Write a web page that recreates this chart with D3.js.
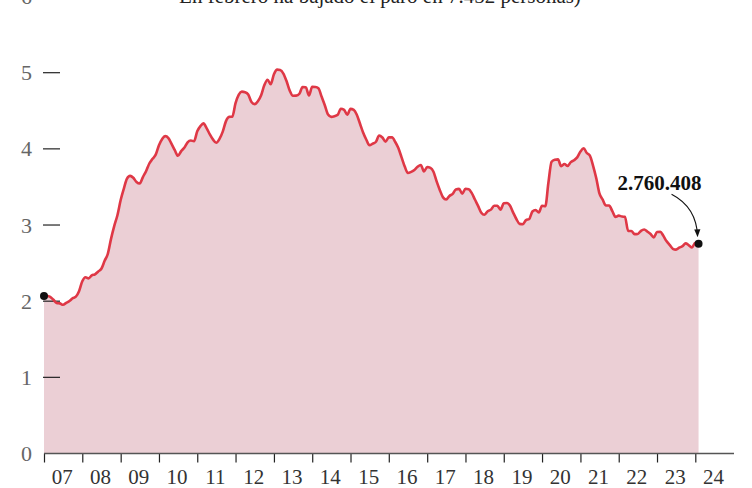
<!DOCTYPE html>
<html>
<head>
<meta charset="utf-8">
<script src="https://cdn.jsdelivr.net/npm/d3@7"></script>
<style>
    html, body { margin: 0; padding: 0; background: #fff; }
    svg { display: block; }
    .tick-label { font-family: "Liberation Serif", "DejaVu Serif", serif; }
</style>
</head>
<body>
<svg id="chart" width="752" height="488"></svg>
<script>
'use strict';

// paro registrado, millones de personas, mensual desde enero 2007
const startDate = new Date(2007, 0, 1);
const paro = [
    2.074, 2.068, 2.055, 2.018, 1.976, 1.971, 1.953, 1.977, 2.002, 2.038, 2.059, 2.130, // 2007
    2.261, 2.315, 2.300, 2.338, 2.353, 2.390, 2.426, 2.530, 2.625, 2.818, 2.989, 3.129, // 2008
    3.328, 3.482, 3.605, 3.645, 3.620, 3.565, 3.545, 3.630, 3.710, 3.808, 3.869, 3.924, // 2009
    4.048, 4.130, 4.167, 4.142, 4.066, 3.982, 3.909, 3.970, 4.018, 4.086, 4.110, 4.100, // 2010
    4.231, 4.299, 4.334, 4.270, 4.190, 4.121, 4.080, 4.131, 4.226, 4.361, 4.420, 4.422, // 2011
    4.599, 4.712, 4.751, 4.744, 4.714, 4.615, 4.587, 4.626, 4.705, 4.834, 4.908, 4.849, // 2012
    4.980, 5.040, 5.035, 4.989, 4.890, 4.763, 4.698, 4.699, 4.724, 4.811, 4.808, 4.701, // 2013
    4.814, 4.812, 4.796, 4.684, 4.573, 4.450, 4.420, 4.428, 4.447, 4.526, 4.512, 4.448, // 2014
    4.525, 4.512, 4.452, 4.333, 4.215, 4.120, 4.047, 4.068, 4.094, 4.176, 4.149, 4.094, // 2015
    4.151, 4.153, 4.094, 4.011, 3.891, 3.767, 3.683, 3.697, 3.721, 3.764, 3.789, 3.703, // 2016
    3.761, 3.750, 3.702, 3.573, 3.461, 3.363, 3.335, 3.382, 3.410, 3.467, 3.474, 3.412, // 2017
    3.476, 3.470, 3.422, 3.335, 3.252, 3.162, 3.135, 3.182, 3.202, 3.254, 3.252, 3.202, // 2018
    3.285, 3.289, 3.255, 3.163, 3.079, 3.015, 3.011, 3.065, 3.079, 3.177, 3.198, 3.164, // 2019
    3.253, 3.246, 3.548, 3.831, 3.857, 3.862, 3.773, 3.802, 3.776, 3.826, 3.851, 3.888, // 2020
    3.964, 4.008, 3.949, 3.910, 3.781, 3.614, 3.416, 3.333, 3.257, 3.257, 3.182, 3.106, // 2021
    3.123, 3.111, 3.108, 2.922, 2.922, 2.880, 2.883, 2.924, 2.941, 2.914, 2.881, 2.838, // 2022
    2.908, 2.911, 2.862, 2.789, 2.739, 2.688, 2.677, 2.702, 2.722, 2.759, 2.734, 2.707, // 2023
    2.768, 2.760                                                                          // 2024
];
const yTicks = [0, 1, 2, 3, 4, 5, 6];
const yearLabels = ['07', '08', '09', '10', '11', '12', '13', '14', '15', '16', '17', '18', '19', '20', '21', '22', '23', '24'];
const lastLabel = '2.760.408';
const subtitle = 'En febrero ha bajado el paro en 7.452 personas)';

const data = paro.map((v, i) => ({
    date: new Date(startDate.getFullYear(), startDate.getMonth() + i, 1),
    value: v
}));

const svg = d3.select('#chart');
const mLeft = 44, mRight = 695.3, mBottom = 453.5, mTop = 72.7;

const x = d3.scaleTime()
    .domain([new Date(2007, 0, 1), new Date(2024, 0, 1)])
    .range([mLeft, mRight]);
const y = d3.scaleLinear().domain([0, 5]).range([mBottom, mTop]);

// titulo cortado arriba
svg.append('text')
    .attr('x', 380).attr('y', 3)
    .attr('text-anchor', 'middle')
    .attr('font-family', '"Liberation Serif", serif')
    .attr('font-size', 21)
    .attr('fill', '#222')
    .text(subtitle);

// area + linea
const area = d3.area()
    .x(d => x(d.date))
    .y0(y(0))
    .y1(d => y(d.value))
    .curve(d3.curveMonotoneX);

const line = d3.line()
    .x(d => x(d.date))
    .y(d => y(d.value))
    .curve(d3.curveMonotoneX);

svg.append('path')
    .datum(data)
    .attr('fill', '#ebcfd5')
    .attr('d', area);

// y ticks
const yAxis = d3.axisLeft(y)
    .tickValues(yTicks)
    .tickSize(0)
    .tickPadding(12)
    .tickFormat(d3.format('d'));

svg.append('g')
    .attr('transform', 'translate(' + mLeft + ',0)')
    .call(yAxis)
    .call(g => g.select('.domain').remove())
    .call(g => g.selectAll('.tick text')
        .attr('class', 'tick-label')
        .attr('font-size', 22)
        .attr('fill', '#666'));

svg.append('g')
    .selectAll('line')
    .data(yTicks.filter(d => d > 0))
    .enter().append('line')
    .attr('x1', mLeft - 1).attr('x2', mLeft + 16)
    .attr('y1', d => y(d)).attr('y2', d => y(d))
    .attr('stroke', '#222')
    .attr('stroke-width', 1.2);

svg.append('path')
    .datum(data)
    .attr('fill', 'none')
    .attr('stroke', '#df3846')
    .attr('stroke-width', 2.6)
    .attr('stroke-linejoin', 'round')
    .attr('d', line);

// x axis
const yearDates = yearLabels.map((d, i) => new Date(2007 + i, 0, 1));

const xAxis = d3.axisBottom(x)
    .tickValues(yearDates)
    .tickSize(9)
    .tickFormat('');

svg.append('g')
    .attr('transform', 'translate(0,' + mBottom + ')')
    .call(xAxis)
    .call(g => g.select('.domain').remove())
    .call(g => g.selectAll('.tick line').attr('stroke', '#222').attr('stroke-width', 1.2));

svg.append('line')
    .attr('x1', mLeft).attr('x2', 734)
    .attr('y1', mBottom).attr('y2', mBottom)
    .attr('stroke', '#555')
    .attr('stroke-width', 1.5);

const yearW = x(new Date(2008, 0, 1)) - x(new Date(2007, 0, 1));

svg.append('g')
    .selectAll('text')
    .data(yearDates)
    .enter().append('text')
    .attr('class', 'tick-label')
    .attr('x', d => x(d) + yearW / 2 - 1)
    .attr('y', 484)
    .attr('text-anchor', 'middle')
    .attr('font-size', 21)
    .attr('fill', '#333')
    .text((d, i) => yearLabels[i]);

// puntos inicio / fin
const first = data[0];
const last = data[data.length - 1];

svg.selectAll('circle.end')
    .data([first, last])
    .enter().append('circle')
    .attr('class', 'end')
    .attr('r', 4)
    .attr('cx', d => x(d.date))
    .attr('cy', d => y(d.value) + 0.5)
    .attr('fill', '#111');

// anotacion
const lx = x(last.date), ly = y(last.value);

svg.append('text')
    .attr('x', lx + 3).attr('y', ly - 53)
    .attr('text-anchor', 'end')
    .attr('font-family', '"Liberation Serif", serif')
    .attr('font-weight', 'bold')
    .attr('font-size', 21)
    .attr('fill', '#111')
    .text(lastLabel);

svg.append('defs').append('marker')
    .attr('id', 'arrow')
    .attr('viewBox', '0 0 10 10')
    .attr('refX', 9).attr('refY', 5)
    .attr('markerWidth', 7).attr('markerHeight', 7)
    .attr('orient', 'auto')
    .append('path')
    .attr('d', 'M0,1 L10,5 L0,9 Z')
    .attr('fill', '#111');

const arrow = d3.path();
arrow.moveTo(lx - 27, ly - 49);
arrow.quadraticCurveTo(lx - 2, ly - 36, lx - 1, ly - 7);

svg.append('path')
    .attr('d', arrow.toString())
    .attr('fill', 'none')
    .attr('stroke', '#111')
    .attr('stroke-width', 1.1)
    .attr('marker-end', 'url(#arrow)');
</script>
</body>
</html>
